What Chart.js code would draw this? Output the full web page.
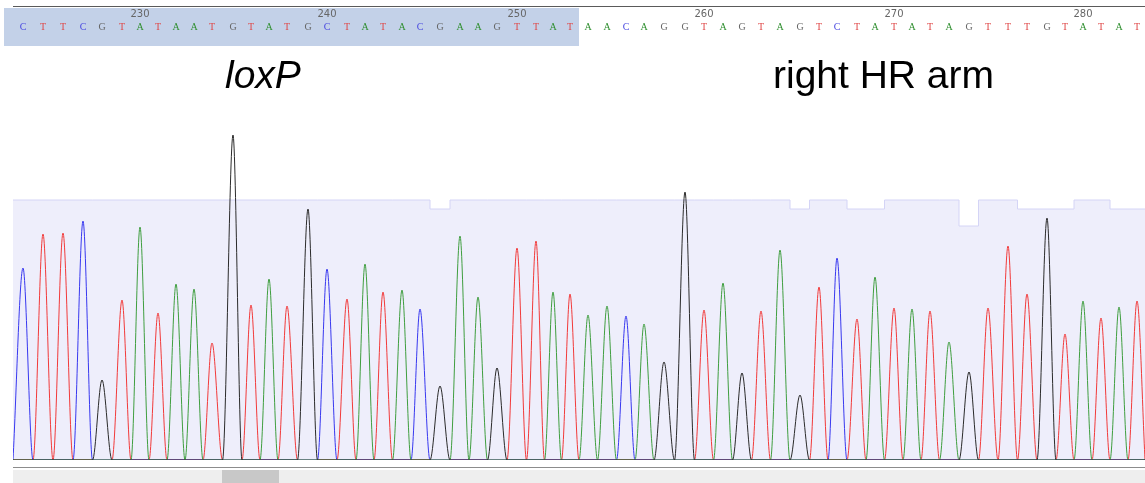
<!DOCTYPE html>
<html>
<head>
<meta charset="utf-8">
<script src="https://cdn.jsdelivr.net/npm/chart.js@4/dist/chart.umd.min.js"></script>
<style>
  html, body { margin: 0; padding: 0; background: #fff; }
  #wrap { position: relative; width: 1145px; height: 483px; }
  .label { position: absolute; font-family: "Liberation Sans", Arial, sans-serif; font-size: 39px; line-height: 39px; color: #000; white-space: nowrap; }
</style>
</head>
<body>
<div id="wrap">
  <canvas id="trace" width="1145" height="483"></canvas>
  <div class="label" style="left:225px; top:55px; font-style:italic;">loxP</div>
  <div class="label" style="left:773px; top:55px;">right HR arm</div>
</div>
<script>
// Sequence read (base 224 to 283)
const firstBase = 224;
const sequence = 'CTTCGTATAATGTATGCTATACGAAGTTATAACAGGTAGTAGTCTATATAGTTTGTATAT'.split('');
// scan position of each called peak (trace runs from scan 0 to 1132)
const peakScan = [
  10, 30, 50, 70, 89, 109, 127, 145, 163, 181,
  199, 220, 238, 256, 274, 295, 314, 334, 352, 370,
  389, 407, 427, 447, 465, 484, 504, 523, 540, 557,
  575, 594, 613, 631, 651, 672, 691, 710, 729, 748,
  767, 787, 806, 824, 844, 862, 881, 899, 917, 936,
  956, 975, 995, 1014, 1034, 1052, 1070, 1088, 1106, 1124
];
// peak height of the called base
const peakHeights = [
  192, 226, 227, 239, 80, 160, 233, 147, 176, 171,
  117, 325, 155, 181, 154, 251, 191, 161, 196, 168,
  170, 151, 74, 224, 163, 92, 212, 219, 168, 166,
  145, 154, 144, 136, 98, 268, 150, 177, 87, 149,
  210, 65, 173, 202, 141, 183, 152, 151, 149, 118,
  88, 152, 214, 166, 242, 126, 159, 142, 153, 159
];
// quality bar per base (the lavender band)
const quality = [
  260, 260, 260, 260, 260, 260, 260, 260, 260, 260,
  260, 260, 260, 260, 260, 260, 260, 260, 260, 260,
  260, 260, 251, 260, 260, 260, 260, 260, 260, 260,
  260, 260, 260, 260, 260, 260, 260, 260, 260, 260,
  260, 251, 260, 260, 251, 251, 260, 260, 260, 260,
  234, 260, 260, 251, 251, 251, 260, 260, 251, 251
];
const rulerTicks = [230, 240, 250, 260, 270, 280];
const loxpEnd = 253;

const baseColors = { A: '#3f9e3f', C: '#3838f0', G: '#2b2b2b', T: '#f23a3a' };
const letterColors = { A: '#2f8f2f', C: '#4a4ae0', G: '#666666', T: '#e04848' };

const scanMin = 0, scanMax = 1132;
const n = sequence.length;
// boundaries between neighbouring peaks
const edges = [scanMin];
for (let i = 1; i < n; i++) edges.push((peakScan[i - 1] + peakScan[i]) / 2);
edges.push(scanMax);

// one trace per dye: baseline - apex - baseline for each called base
function tracePoints(letter) {
  const pts = [{ x: scanMin, y: 0 }];
  sequence.forEach((b, i) => {
    if (b !== letter) return;
    if (pts[pts.length - 1].x !== edges[i]) pts.push({ x: edges[i], y: 0 });
    pts.push({ x: peakScan[i], y: peakHeights[i] });
    pts.push({ x: edges[i + 1], y: 0 });
  });
  if (pts[pts.length - 1].x !== scanMax) pts.push({ x: scanMax, y: 0 });
  return pts;
}

const qualityPoints = quality.map((q, i) => ({ x: edges[i], y: q }));
qualityPoints.push({ x: scanMax, y: quality[n - 1] });

const traceSets = ['G', 'A', 'C', 'T'].map(l => ({
  label: l,
  data: tracePoints(l),
  borderColor: baseColors[l],
  borderWidth: 1,
  pointRadius: 0,
  fill: false,
  cubicInterpolationMode: 'monotone',
  order: 1
}));

const decor = {
  id: 'decor',
  beforeDraw(chart) {
    const c = chart.ctx;
    const x = chart.scales.x;
    const a = chart.chartArea;
    const k = loxpEnd - firstBase;
    c.save();
    // selected region (loxP) on the ruler
    c.fillStyle = '#c3d1e8';
    c.fillRect(4, 8, x.getPixelForValue(edges[k + 1]) - 4, 38);
    c.fillStyle = '#5a5a5a';
    c.fillRect(a.left, 6, a.right - a.left, 1);
    // scroll bar under the trace
    c.fillStyle = '#8c8c8c';
    c.fillRect(a.left, 467, a.right - a.left, 1);
    c.fillStyle = '#eeeeee';
    c.fillRect(a.left, 470, a.right - a.left, 13);
    c.fillStyle = '#c8c8c8';
    c.fillRect(222, 470, 57, 13);
    c.restore();
  }
};

function fitTop(h) {
  return s => { s.height = h; s.paddingLeft = 0; s.paddingRight = 0; };
}

new Chart(document.getElementById('trace'), {
  type: 'line',
  data: {
    datasets: [
      ...traceSets,
      {
        label: 'quality',
        data: qualityPoints,
        stepped: true,
        borderColor: '#d4d4f6',
        borderWidth: 1,
        backgroundColor: '#eeeefb',
        fill: 'origin',
        pointRadius: 0,
        order: 10
      }
    ]
  },
  options: {
    responsive: false,
    animation: false,
    layout: { padding: { left: 13, right: 0, top: 0, bottom: 23 } },
    plugins: { legend: { display: false }, tooltip: { enabled: false } },
    scales: {
      x: {
        type: 'linear',
        position: 'top',
        min: scanMin,
        max: scanMax,
        weight: 0,
        grid: { display: false, drawTicks: false },
        border: { display: false },
        afterBuildTicks: s => { s.ticks = peakScan.map(v => ({ value: v })); },
        afterFit: fitTop(26),
        ticks: {
          autoSkip: false,
          maxRotation: 0,
          minRotation: 0,
          padding: 13,
          font: { family: '"Liberation Serif", serif', size: 10 },
          color: ctx => letterColors[sequence[ctx.index]],
          callback: (v, i) => sequence[i]
        }
      },
      x2: {
        type: 'linear',
        position: 'top',
        min: scanMin,
        max: scanMax,
        weight: 1,
        grid: { display: false, drawTicks: false },
        border: { display: false },
        afterBuildTicks: s => { s.ticks = rulerTicks.map(b => ({ value: peakScan[b - firstBase] })); },
        afterFit: fitTop(20),
        ticks: {
          autoSkip: false,
          maxRotation: 0,
          minRotation: 0,
          padding: 0,
          font: { family: '"DejaVu Sans", sans-serif', size: 10 },
          color: '#666666',
          callback: (v, i) => String(rulerTicks[i])
        }
      },
      y: {
        display: false,
        min: 0,
        max: 414
      }
    }
  },
  plugins: [decor]
});
</script>
</body>
</html>
